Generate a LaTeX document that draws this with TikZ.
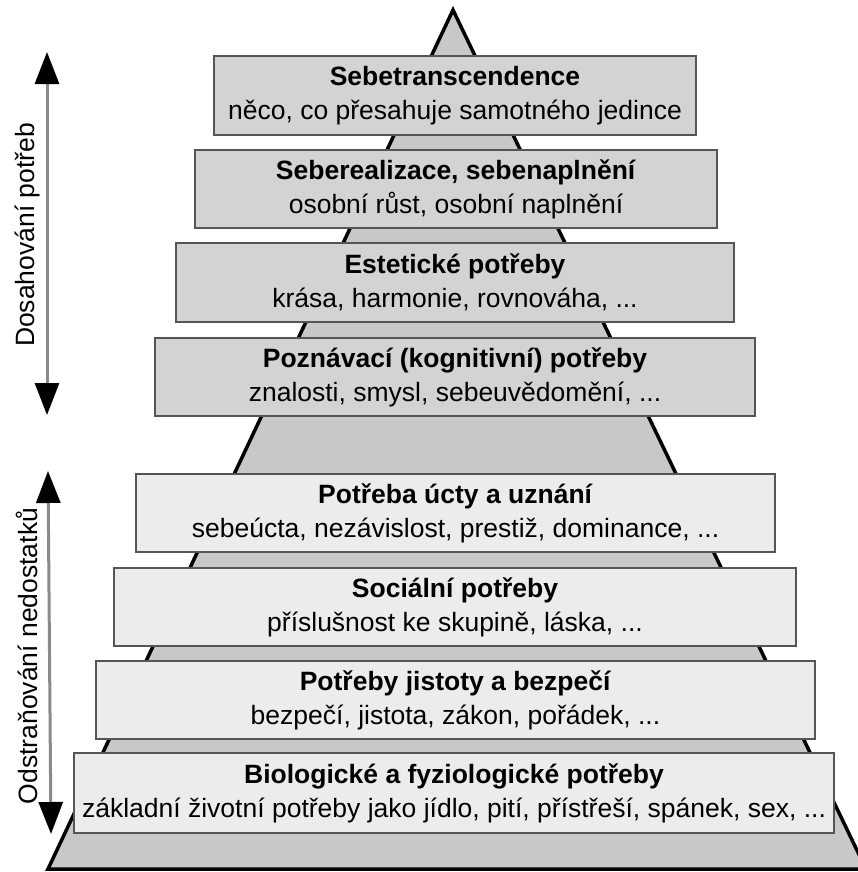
\documentclass[tikz,border=0pt]{standalone}
\usepackage{fontspec}
\setmainfont{Liberation Sans}
\usetikzlibrary{arrows.meta}
\definecolor{pyrfill}{HTML}{C8C8C8}
\definecolor{boxdark}{HTML}{D3D3D3}
\definecolor{boxlight}{HTML}{ECECEC}
\definecolor{boxedge}{HTML}{555555}
\definecolor{arrline}{HTML}{8A8A8A}
\tikzset{
  level/.style={draw=boxedge, line width=2.5bp, inner sep=0pt, align=center,
    font=\fontsize{26.6}{34}\selectfont},
  upper/.style={level, fill=boxdark},
  lower/.style={level, fill=boxlight},
  sidetip/.tip={Triangle[width=24bp,length=32bp,color=black,fill=black]},
  sidearrow/.style={arrline, line width=3bp, sidetip-sidetip},
  sidelabel/.style={rotate=90, font=\fontsize{26.6}{30}\selectfont}
}
\begin{document}
\begin{tikzpicture}[x=1bp,y=-1bp]
\useasboundingbox (0,0) rectangle (858,872);
\begin{scope}
\clip (0,0) rectangle (858,872);
\filldraw[fill=pyrfill, draw=black, line width=3.5bp, line join=miter]
  (453,10) coordinate (apex) -- (48,869) coordinate (bl) -- (866,869) coordinate (br) -- cycle;
\end{scope}
\node[upper, minimum width=482bp, minimum height=79bp] (l1) at (455,95.5)
  {\textbf{Sebetranscendence}\\něco, co přesahuje samotného jedince};
\node[upper, minimum width=522bp, minimum height=78bp] (l2) at (456,189)
  {\textbf{Seberealizace, sebenaplnění}\\osobní růst, osobní naplnění};
\node[upper, minimum width=558bp, minimum height=79bp] (l3) at (455,282.5)
  {\textbf{Estetické potřeby}\\krása, harmonie, rovnováha, ...};
\node[upper, minimum width=600bp, minimum height=78bp] (l4) at (455,377)
  {\textbf{Poznávací (kognitivní) potřeby}\\znalosti, smysl, sebeuvědomění, ...};
\node[lower, minimum width=639bp, minimum height=78bp] (l5) at (455.5,513)
  {\textbf{Potřeba úcty a uznání}\\sebeúcta, nezávislost, prestiž, dominance, ...};
\node[lower, minimum width=682bp, minimum height=78bp] (l6) at (455,607)
  {\textbf{Sociální potřeby}\\příslušnost ke skupině, láska, ...};
\node[lower, minimum width=719bp, minimum height=78bp] (l7) at (455.5,700)
  {\textbf{Potřeby jistoty a bezpečí}\\bezpečí, jistota, zákon, pořádek, ...};
\node[lower, minimum width=760bp, minimum height=80bp] (l8) at (454,793)
  {\textbf{Biologické a fyziologické potřeby}\\základní životní potřeby jako jídlo, pití, přístřeší, spánek, sex, ...};
\coordinate (a1top) at (47,52);
\coordinate (a1bot) at (47,415);
\coordinate (a2top) at (48,471);
\coordinate (a2bot) at (51,834);
\draw[sidearrow] (a1bot) -- (a1top);
\draw[sidearrow] (a2bot) -- (a2top);
\node[sidelabel] (t1) at (27,235) {Dosahování potřeb};
\node[sidelabel] (t2) at (27,656) {Odstraňování nedostatků};
\end{tikzpicture}
\end{document}
